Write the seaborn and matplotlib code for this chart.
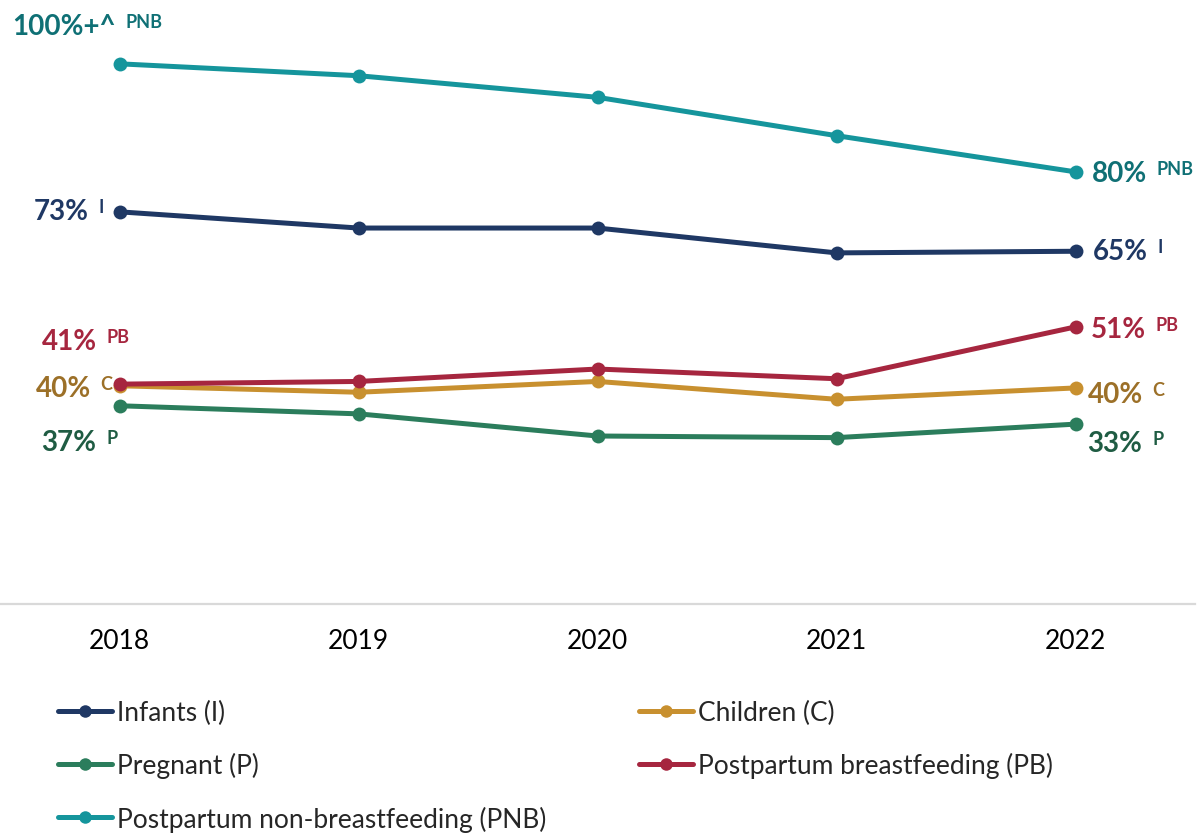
import pandas as pd
import matplotlib.pyplot as plt
import seaborn as sns

years = ['2018', '2019', '2020', '2021', '2022']
groups = ['Infants (I)', 'Children (C)', 'Pregnant (P)',
          'Postpartum breastfeeding (PB)', 'Postpartum non-breastfeeding (PNB)']
infants = [72.6, 69.6, 69.6, 65.0, 65.3]
children = [40.4, 39.2, 41.2, 37.9, 40.0]
pregnant = [36.7, 35.2, 31.1, 30.8, 33.3]
pp_breast = [40.7, 41.2, 43.5, 41.7, 51.3]
pp_nonbreast = [100.0, 97.8, 93.8, 86.7, 80.0]

line_colors = ['#1f3864', '#c8902f', '#2b7d5c', '#a6263f', '#15959c']
text_colors = ['#1f3864', '#9c7028', '#1f5c43', '#a6263f', '#0f7075']

# end labels: (main text, superscript)
left_text = [('73%', 'I'), ('40%', 'C'), ('37%', 'P'), ('41%', 'PB'), ('100%+^', 'PNB')]
right_text = [('65%', 'I'), ('40%', 'C'), ('33%', 'P'), ('51%', 'PB'), ('80%', 'PNB')]
# label offsets in pixels: left edge from point, vertical centre from point (up +)
left_off = [(-86, 3), (-84, 0), (-78, -34), (-78, 45), (-107, 40)]
right_off = [(17, 2), (12, -4), (12, -17), (15, 0), (16, 1)]

series = [infants, children, pregnant, pp_breast, pp_nonbreast]
df = pd.DataFrame({
    'x': list(range(len(years))) * len(groups),
    'value': [v for s in series for v in s],
    'group': [g for g in groups for _ in years],
})

sns.set_style('white')
plt.rcParams['font.family'] = ['Lato', 'DejaVu Sans']

fig = plt.figure(figsize=(12.03, 8.37), dpi=100)
ax = fig.add_axes([0, (837 - 605) / 837, 1195 / 1203, 605 / 837])

sns.lineplot(data=df, x='x', y='value', hue='group', hue_order=groups,
             palette=line_colors, marker='o', markersize=10, markeredgewidth=0,
             linewidth=3.6, ax=ax, legend=False)

ax.set_xlim(-0.5, 4.5)
ax.set_ylim(0, 112)
ax.set_xticks(range(len(years)))
ax.set_xticklabels(years, fontsize=19, color='black')
ax.tick_params(axis='x', length=0, pad=17)
ax.set_yticks([])
ax.set_xlabel('')
ax.set_ylabel('')
for side in ['left', 'right', 'top']:
    ax.spines[side].set_visible(False)
ax.spines['bottom'].set_color('#d9d9d9')
ax.spines['bottom'].set_linewidth(1.6)

renderer = fig.canvas.get_renderer()
px2pt = 72 / fig.dpi
main_fs, sup_fs = 20, 13


def add_label(x, y, main, sup, color, dx_px, dy_px):
    cap = 0.72 * main_fs
    base = dy_px * px2pt - cap / 2
    t = ax.annotate(main, (x, y), xytext=(dx_px * px2pt, base),
                    textcoords='offset points', ha='left', va='baseline',
                    fontsize=main_fs, fontweight='bold', color=color)
    w = t.get_window_extent(renderer).width * px2pt
    ax.annotate(sup, (x, y), xytext=(dx_px * px2pt + w + 7, base + cap - 0.72 * sup_fs),
                textcoords='offset points', ha='left', va='baseline',
                fontsize=sup_fs, fontweight='bold', color=color)


for i, s in enumerate(series):
    add_label(0, s[0], left_text[i][0], left_text[i][1], text_colors[i], *left_off[i])
    add_label(len(years) - 1, s[-1], right_text[i][0], right_text[i][1], text_colors[i], *right_off[i])

# legend, column-wise fill to get row order I, C / P, PB / PNB
handles = []
for i, g in enumerate(groups):
    h, = ax.plot([], [], color=line_colors[i], marker='o', markersize=9,
                 markeredgewidth=0, linewidth=3.6, label=g)
    handles.append(h)
order = [0, 2, 4, 1, 3]
fig.legend([handles[i] for i in order], [groups[i] for i in order],
           loc='upper left', bbox_to_anchor=(58 / 1203, 1 - 701 / 837),
           ncol=2, frameon=False, fontsize=19, handlelength=2.05,
           handletextpad=0.2, columnspacing=3.5, labelspacing=1.03,
           borderaxespad=0, borderpad=0)

fig.savefig('out.png', dpi=100)
